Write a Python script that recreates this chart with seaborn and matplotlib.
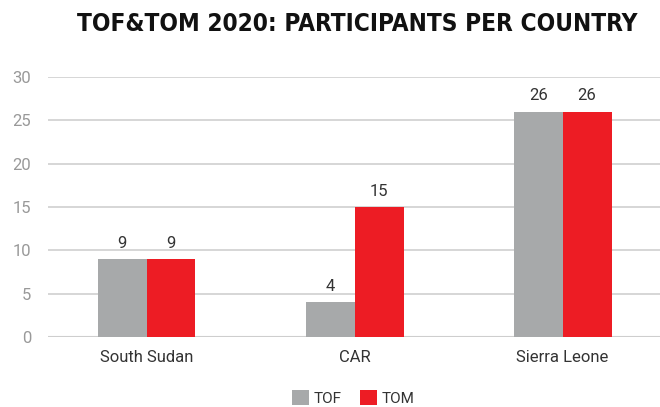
import matplotlib
matplotlib.use("Agg")
import matplotlib.pyplot as plt
import seaborn as sns
import pandas as pd
from matplotlib.patches import Patch

countries = ["South Sudan", "CAR", "Sierra Leone"]
tof = [9, 4, 26]
tom = [9, 15, 26]
series = ["TOF", "TOM"]
colors = ["#a7a9aa", "#ed1c24"]
title = "TOF&TOM 2020: PARTICIPANTS PER COUNTRY"

df = pd.DataFrame({
    "country": countries * 2,
    "value": tof + tom,
    "series": [series[0]] * len(countries) + [series[1]] * len(countries),
})

sns.set_theme(style="white")
plt.rcParams["font.family"] = ["Roboto", "DejaVu Sans"]

fig = plt.figure(figsize=(6.6, 4.07), dpi=100)
ax = fig.add_axes([48 / 660, 70 / 407, 612 / 660, 260 / 407])

sns.barplot(data=df, x="country", y="value", hue="series", palette=colors,
            width=0.47, gap=0, saturation=1, ax=ax, legend=False,
            linewidth=0, edgecolor="none")

ax.set_xlim(-0.474, 2.468)
ax.set_ylim(0, 30)
ax.set_yticks([0, 5, 10, 15, 20, 25, 30])
ax.yaxis.grid(True, color="#d0d0d0", linewidth=1.2)
ax.set_axisbelow(True)
for s in ax.spines.values():
    s.set_visible(False)
ax.axhline(0, color="#c8c8c8", linewidth=1.5, zorder=0.5)
ax.set_xlabel("")
ax.set_ylabel("")
ax.tick_params(axis="y", length=0, labelsize=12, labelcolor="#999999", pad=12)
ax.tick_params(axis="x", length=0, labelsize=12, labelcolor="#333333", pad=9)

for cont in ax.containers:
    ax.bar_label(cont, labels=[f"{int(v)}" for v in cont.datavalues],
                 padding=6, fontsize=12, color="#333333")

fig.text(0.541, 0.942, title, ha="center", va="center", fontsize=17.5,
         fontweight="bold", fontstretch="condensed", color="#111111",
         family=["DejaVu Sans"])

handles = [Patch(facecolor=c, edgecolor="none") for c in colors]
fig.legend(handles, series, loc="center", bbox_to_anchor=(0.535, 0.022),
           ncol=2, frameon=False, handlelength=1.1, handleheight=1.1,
           handletextpad=0.3, columnspacing=1.2, fontsize=11,
           labelcolor="#333333")

fig.savefig("out.png", dpi=100)
